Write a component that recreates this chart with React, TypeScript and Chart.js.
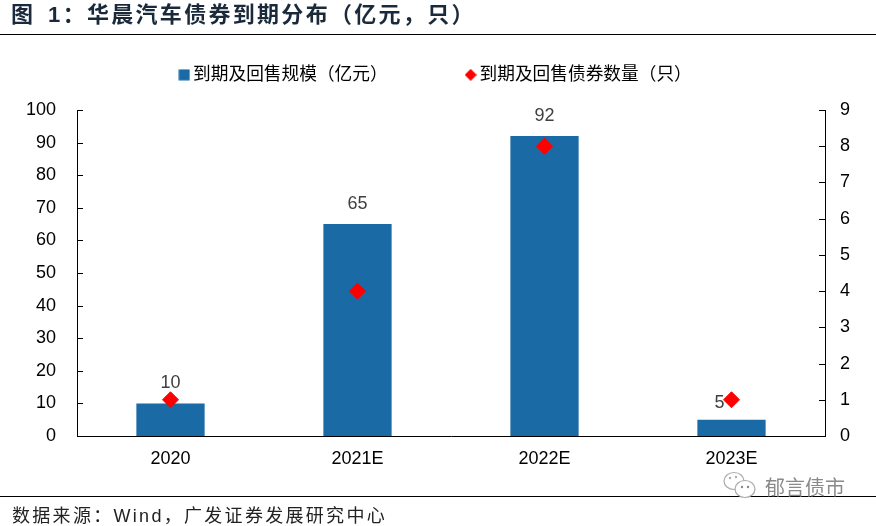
import React, { useEffect, useRef } from "react";
import { Chart, registerables } from "chart.js";

Chart.register(...registerables);

const categories = ["2020", "2021E", "2022E", "2023E"];
const scaleValues = [10, 65, 92, 5];
const countValues = [1, 4, 8, 1];
const titleText = "图  1：华晨汽车债券到期分布（亿元，只）";
const sourceText = "数据来源：Wind，广发证券发展研究中心";
const watermarkText = "郁言债市";
const seriesNames = ["到期及回售规模（亿元）", "到期及回售债券数量（只）"];

const CJK = '"Liberation Sans", "Noto Sans CJK SC", sans-serif';
const BLUE = "#1A6AA5";
const RED = "#FF0000";

function legendMark(kind: "square" | "diamond", color: string) {
  const c = document.createElement("canvas");
  c.width = 12;
  c.height = 12;
  const g = c.getContext("2d") as CanvasRenderingContext2D;
  g.fillStyle = color;
  if (kind === "square") {
    g.fillRect(0.5, 0.5, 11, 11);
  } else {
    g.beginPath();
    g.moveTo(6, 0);
    g.lineTo(12, 6);
    g.lineTo(6, 12);
    g.lineTo(0, 6);
    g.closePath();
    g.fill();
  }
  return c;
}

const decor = {
  id: "decor",
  beforeLayout(chart: any) {
    const legend = chart.legend;
    if (legend && !legend.__tall) {
      legend.__tall = true;
      const fit = legend.fit;
      legend.fit = function () {
        fit.call(this);
        this.height = 127;
      };
    }
  },
  afterDatasetsDraw(chart: any) {
    const { ctx, chartArea, scales } = chart;
    ctx.save();
    ctx.strokeStyle = "#000";
    ctx.lineWidth = 1;
    ctx.beginPath();
    scales.y.ticks.forEach((t: any) => {
      const p = Math.round(scales.y.getPixelForValue(t.value)) + 0.5;
      ctx.moveTo(chartArea.left, p);
      ctx.lineTo(chartArea.left + 6, p);
    });
    scales.y2.ticks.forEach((t: any) => {
      const p = Math.round(scales.y2.getPixelForValue(t.value)) + 0.5;
      ctx.moveTo(chartArea.right, p);
      ctx.lineTo(chartArea.right - 6, p);
    });
    ctx.stroke();
    ctx.restore();
  },
  beforeDatasetDraw(chart: any, args: any) {
    if (args.index !== 0) return;
    const { ctx } = chart;
    ctx.save();
    ctx.font = '18px "Liberation Sans", sans-serif';
    ctx.fillStyle = "#404040";
    ctx.textAlign = "center";
    ctx.textBaseline = "middle";
    chart.getDatasetMeta(1).data.forEach((bar: any, i: number) => {
      const tiny = scaleValues[i] < 10;
      ctx.fillText(String(scaleValues[i]), bar.x - (tiny ? 12 : 0), bar.y - (tiny ? 17 : 20));
    });
    ctx.restore();
  },
};

export default function App() {
  const ref = useRef<HTMLCanvasElement>(null);
  useEffect(() => {
    const squareMark = legendMark("square", BLUE);
    const diamondMark = legendMark("diamond", RED);
    const chart = new Chart(ref.current as HTMLCanvasElement, {
      type: "bar",
      plugins: [decor],
      data: {
        labels: categories,
        datasets: [
          {
            type: "scatter" as any,
            label: seriesNames[1],
            data: countValues.map((v, i) => ({ x: categories[i], y: v })) as any,
            yAxisID: "y2",
            backgroundColor: RED,
            borderColor: RED,
            pointStyle: "rectRot",
            pointRadius: 8,
            pointHoverRadius: 8,
            order: 1,
          },
          {
            type: "bar",
            label: seriesNames[0],
            data: scaleValues,
            yAxisID: "y",
            backgroundColor: BLUE,
            categoryPercentage: 1,
            barPercentage: 0.365,
            order: 2,
          },
        ],
      },
      options: {
        responsive: false,
        animation: false,
        layout: { padding: { top: -17 } },
        plugins: {
          tooltip: { enabled: false },
          legend: {
            position: "top",
            labels: {
              usePointStyle: true,
              boxWidth: 0.01,
              boxHeight: 12,
              padding: 83,
              color: "#000",
              font: { family: CJK, size: 17.7 },
              generateLabels: () => [
                { text: seriesNames[0], fillStyle: BLUE, strokeStyle: BLUE, pointStyle: squareMark, datasetIndex: 1, lineWidth: 0 },
                { text: seriesNames[1], fillStyle: RED, strokeStyle: RED, pointStyle: diamondMark, datasetIndex: 0, lineWidth: 0 },
              ] as any,
            },
          },
        },
        scales: {
          x: {
            type: "category",
            offset: true,
            grid: { display: false, drawTicks: false },
            border: { color: "#000", width: 1 },
            ticks: { color: "#000", padding: 12, font: { family: CJK, size: 18 }, maxRotation: 0 },
            afterFit: (s: any) => { s.height = 90; },
          },
          y: {
            position: "left",
            min: 0,
            max: 100,
            grid: { display: false, drawTicks: false },
            border: { color: "#000", width: 1 },
            ticks: { stepSize: 10, color: "#000", padding: 21, font: { family: CJK, size: 18 } },
            afterFit: (s: any) => { s.width = 77; },
          },
          y2: {
            position: "right",
            min: 0,
            max: 9,
            grid: { display: false, drawTicks: false },
            border: { color: "#000", width: 1 },
            ticks: { stepSize: 1, color: "#000", padding: 15, font: { family: CJK, size: 18 } },
            afterFit: (s: any) => { s.width = 51; },
          },
        },
      } as any,
    });
    return () => chart.destroy();
  }, []);

  const text: React.CSSProperties = { position: "absolute", whiteSpace: "pre", fontFamily: CJK };
  return (
    <div style={{ position: "absolute", left: 0, top: 0, width: 876, height: 526, background: "#fff", overflow: "hidden" }}>
      <canvas ref={ref} width={876} height={526} style={{ position: "absolute", left: 0, top: 0 }} />
      <div style={{ ...text, left: 11, top: 0, fontSize: 22, letterSpacing: 2.3, wordSpacing: -2, color: "#1a2a3a", fontWeight: 700, lineHeight: "30px" }}>{titleText}</div>
      <div style={{ position: "absolute", left: 0, top: 34, width: 876, height: 1, background: "#000" }} />
      <div style={{ position: "absolute", left: 0, top: 496, width: 876, height: 1, background: "#000" }} />
      <div style={{ ...text, left: 12, top: 504, fontSize: 18, letterSpacing: 2.3, color: "#222", lineHeight: "24px" }}>{sourceText}</div>
      <div style={{ ...text, left: 765, top: 476, fontSize: 20, color: "#8a8a8a", lineHeight: "24px" }}>{watermarkText}</div>
      <svg width="36" height="30" viewBox="0 0 36 30" style={{ position: "absolute", left: 722, top: 471 }}>
        <ellipse cx="12" cy="10" rx="10" ry="8.5" fill="#fff" stroke="#aaa" strokeWidth="1.2" />
        <ellipse cx="23" cy="18" rx="10" ry="8.5" fill="#fff" stroke="#aaa" strokeWidth="1.2" />
        <circle cx="20" cy="16" r="1.2" fill="#888" />
        <circle cx="26" cy="16" r="1.2" fill="#888" />
        <circle cx="8" cy="7" r="1.2" fill="#aaa" />
        <circle cx="14" cy="6" r="1.2" fill="#aaa" />
      </svg>
    </div>
  );
}
